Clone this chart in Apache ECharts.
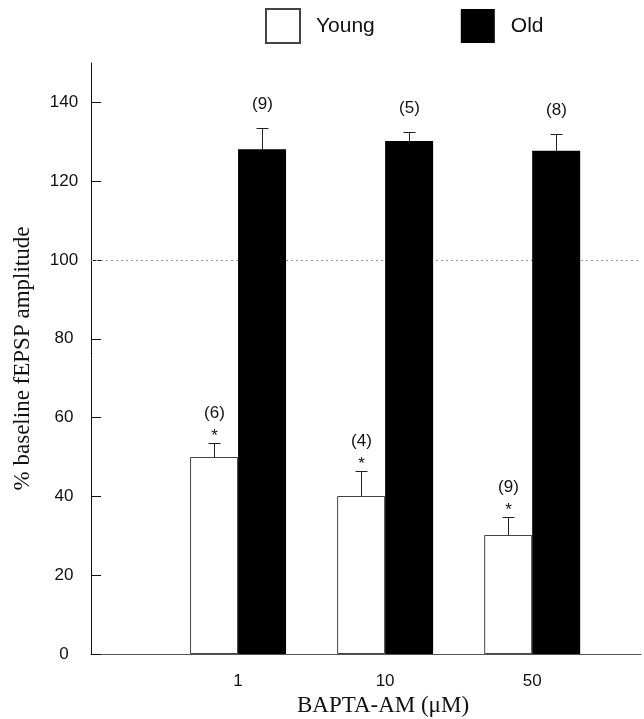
<!DOCTYPE html>
<html>
<head>
<meta charset="utf-8">
<script src="https://cdn.jsdelivr.net/npm/echarts@6/dist/echarts.min.js"></script>
<style>
  html, body { margin: 0; padding: 0; background: #fff; }
  #chart { width: 644px; height: 719px; }
</style>
</head>
<body>
<div id="chart"></div>
<script>
// data
var doses = ['1', '10', '50'];
var youngMean = [50.0, 40.1, 30.2];
var youngErr = [3.5, 6.3, 4.6];
var youngN = ['(6)', '(4)', '(9)'];
var oldMean = [128.1, 130.2, 127.7];
var oldErr = [5.5, 2.3, 4.4];
var oldN = ['(9)', '(5)', '(8)'];
var yTicks = [0, 20, 40, 60, 80, 100, 120, 140];
var baseline = 100;

var sans = 'Liberation Sans, Arial, sans-serif';
var serif = 'Liberation Serif, Times New Roman, serif';
var BAR_W = 48;

function pos(i) { return i + 1; }

// error bar + n label (+ asterisk) drawn above each bar
function errRender(offset, labels, nGap, star) {
  return function (params, api) {
    var i = params.dataIndex;
    var base = api.coord([api.value(0), api.value(1)]);
    var top = api.coord([api.value(0), api.value(1) + api.value(2)]);
    var cx = Math.round(base[0] + offset) + 0.5;
    var ty = Math.round(top[1]) + 0.5;
    var st = { stroke: '#222', lineWidth: 1 };
    var kids = [
      { type: 'line', shape: { x1: cx, y1: base[1], x2: cx, y2: ty }, style: st },
      { type: 'line', shape: { x1: cx - 6, y1: ty, x2: cx + 6, y2: ty }, style: st },
      { type: 'text', x: cx, y: ty - nGap,
        style: { text: labels[i], fill: '#111', font: '17px ' + sans, align: 'center', verticalAlign: 'middle' } }
    ];
    if (star) {
      kids.push({ type: 'text', x: cx, y: ty - 7,
        style: { text: '*', fill: '#111', font: '17px ' + sans, align: 'center', verticalAlign: 'middle' } });
    }
    return { type: 'group', children: kids };
  };
}

var chart = echarts.init(document.getElementById('chart'));
chart.setOption({
  backgroundColor: '#fff',
  animation: false,
  legend: {
    left: 260,
    top: 3,
    itemWidth: 34,
    itemHeight: 34,
    itemGap: 86,
    icon: 'rect',
    data: ['Young', 'Old'],
    textStyle: { fontSize: 21, fontFamily: sans, color: '#111', padding: [0, 0, 0, 11] }
  },
  grid: { left: 91, right: 3, top: 63, bottom: 65, outerBoundsMode: 'none' },
  xAxis: {
    type: 'value',
    min: 0,
    max: 3.74,
    name: 'BAPTA-AM (\u03bcM)',
    nameLocation: 'middle',
    nameGap: 29,
    nameTextStyle: { fontSize: 23, fontFamily: serif, color: '#111', padding: [0, 0, 0, 34] },
    axisLine: { lineStyle: { color: '#555', width: 1 } },
    axisTick: { show: false },
    splitLine: { show: false },
    axisLabel: {
      customValues: doses.map(function (d, i) { return pos(i); }),
      formatter: function (v) { return doses[Math.round(v) - 1] || ''; },
      fontSize: 17,
      fontFamily: sans,
      color: '#111',
      margin: 19
    }
  },
  yAxis: {
    type: 'value',
    min: 0,
    max: 150,
    name: '% baseline fEPSP amplitude',
    nameLocation: 'middle',
    nameGap: 57,
    nameTextStyle: { fontSize: 23, fontFamily: serif, color: '#111' },
    axisLine: { show: true, lineStyle: { color: '#111', width: 1 } },
    axisTick: { show: true, inside: true, length: 10, customValues: yTicks, lineStyle: { color: '#111' } },
    splitLine: { show: false },
    axisLabel: {
      customValues: yTicks,
      fontSize: 17,
      fontFamily: sans,
      color: '#111',
      align: 'center',
      margin: 27
    }
  },
  series: [
    {
      name: 'Young',
      type: 'bar',
      z: 3,
      barWidth: BAR_W,
      barGap: '0%',
      itemStyle: { color: '#fff', borderColor: '#444', borderWidth: 1 },
      data: youngMean.map(function (v, i) { return [pos(i), v]; }),
      markLine: {
        z: 1,
        silent: true,
        symbol: 'none',
        label: { show: false },
        lineStyle: { type: [2, 3], color: '#999', width: 1 },
        data: [{ yAxis: baseline }]
      }
    },
    {
      name: 'Old',
      type: 'bar',
      z: 3,
      barWidth: BAR_W,
      barGap: '0%',
      itemStyle: { color: '#000' },
      data: oldMean.map(function (v, i) { return [pos(i), v]; })
    },
    {
      type: 'custom',
      z: 4,
      silent: true,
      renderItem: errRender(-BAR_W / 2, youngN, 30, true),
      data: youngMean.map(function (v, i) { return [pos(i), v, youngErr[i]]; })
    },
    {
      type: 'custom',
      z: 4,
      silent: true,
      renderItem: errRender(BAR_W / 2, oldN, 24, false),
      data: oldMean.map(function (v, i) { return [pos(i), v, oldErr[i]]; })
    }
  ]
});
</script>
</body>
</html>
